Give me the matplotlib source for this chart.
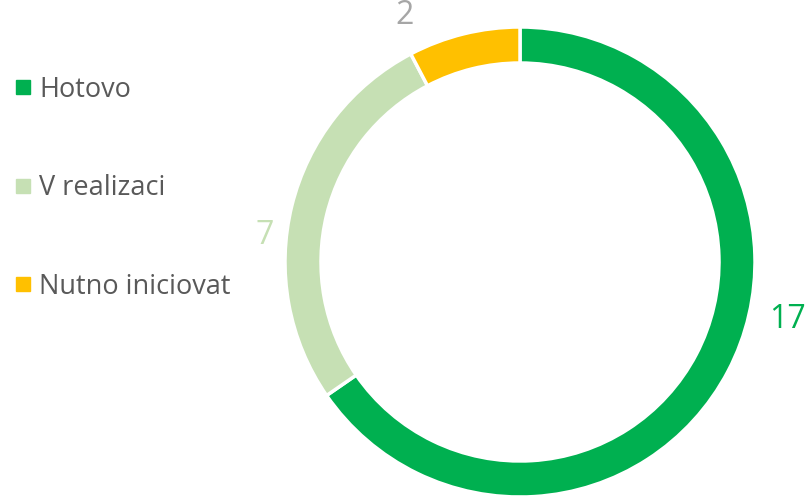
import matplotlib.pyplot as plt
from matplotlib.lines import Line2D

labels = ["Hotovo", "V realizaci", "Nutno iniciovat"]
values = [17, 7, 2]
colors = ["#00B050", "#C6E0B4", "#FFC000"]
label_colors = ["#00B050", "#C6E0B4", "#A6A6A6"]
# value label positions (pixels, from top-left)
label_pos = [(787, 320), (265, 236), (405, 15)]

plt.rcParams['font.family'] = ['Open Sans', 'DejaVu Sans']

W, H = 806, 496
fig = plt.figure(figsize=(W / 100, H / 100), dpi=100)
ax = fig.add_axes([0, 0, 1, 1])

ax.pie(values, colors=colors, startangle=90, counterclock=False,
       center=(520, H - 262), radius=235, frame=True,
       wedgeprops=dict(width=36, edgecolor='white', linewidth=2.5))
ax.set_xlim(0, W)
ax.set_ylim(0, H)
ax.set_aspect('equal')
ax.axis('off')

for v, c, (x, y) in zip(values, label_colors, label_pos):
    ax.text(x, H - y, str(v), color=c, fontsize=23, ha='center', va='center')

handles = [Line2D([], [], marker='s', linestyle='none', markersize=10,
                  markerfacecolor=c, markeredgecolor=c) for c in colors]
fig.legend(handles, labels, loc='upper left', bbox_to_anchor=(-0.002, 0.88),
           frameon=False, fontsize=19.5, labelcolor='#595959',
           handlelength=0.6, handletextpad=0.3, labelspacing=2.6,
           borderaxespad=0.2)

fig.savefig('out.png', dpi=100)
